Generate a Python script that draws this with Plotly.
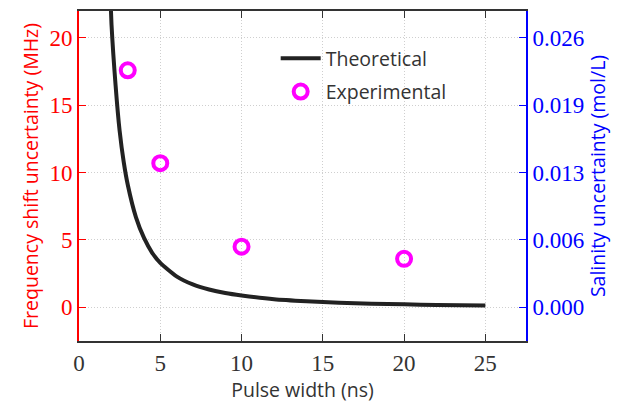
import plotly.graph_objects as go

# Data
theo_x = [1.5, 2, 2.25, 2.5, 2.75, 3, 3.5, 4, 4.5, 5, 6, 7, 8, 9, 10, 12, 14, 16, 18, 20, 22, 25]
theo_y = [36.0, 21.0, 16.5, 13.1, 10.8, 9.1, 6.7, 5.15, 4.05, 3.3, 2.3, 1.7, 1.32, 1.06, 0.88, 0.6, 0.45, 0.34, 0.27, 0.22, 0.18, 0.14]
exp_x = [3, 5, 10, 20]
exp_y = [17.6, 10.7, 4.5, 3.6]
x_ticks = [0, 5, 10, 15, 20, 25]
y_ticks = [0, 5, 10, 15, 20]
y2_ticks = [0.0, 0.0065, 0.013, 0.0195, 0.026]
y2_labels = ["0.000", "0.006", "0.013", "0.019", "0.026"]
scale = 0.0013  # mol/L per MHz

fig = go.Figure()
fig.add_trace(go.Scatter(x=theo_x, y=theo_y, mode="lines", name="Theoretical", legendgroup="a",
                         line=dict(color="#222222", width=4, shape="spline", smoothing=0.6)))
fig.add_trace(go.Scatter(x=exp_x, y=exp_y, mode="markers", name="Experimental", legendgroup="b",
                         marker=dict(symbol="circle-open", size=14, color="#ff00ff",
                                     line=dict(width=4, color="#ff00ff"))))
fig.add_trace(go.Scatter(x=[None], y=[None], yaxis="y2", showlegend=False))

tickfont = dict(family="Liberation Serif", size=23)
titlefont = dict(family="Open Sans", size=19.5)
grid = dict(showgrid=True, gridcolor="#cfcfcf", griddash="1px,2px", gridwidth=1)

fig.update_layout(
    width=626, height=403,
    margin=dict(l=79, r=100, t=11, b=62),
    paper_bgcolor="white", plot_bgcolor="white",
    showlegend=True,
    legend=dict(x=0.44, y=0.915, xanchor="left", yanchor="top",
                font=dict(family="Open Sans", size=19.5, color="#333333"),
                bgcolor="rgba(0,0,0,0)", tracegroupgap=5, itemwidth=40),
    xaxis=dict(range=[0, 27.5], tickvals=x_ticks, ticks="inside", ticklen=7,
               tickcolor="#333333", showline=True, linecolor="#333333", linewidth=2,
               mirror="ticks", zeroline=False, automargin=False,
               tickfont=dict(color="#333333", **tickfont),
               title=dict(text="Pulse width (ns)", font=dict(color="#333333", **titlefont),
                          standoff=4), **grid),
    yaxis=dict(range=[-2.5, 22], tickvals=y_ticks, ticks="inside", ticklen=7,
               tickcolor="#ff0000", showline=True, linecolor="#ff0000", linewidth=2,
               zeroline=False, automargin=False, tickfont=dict(color="#ff0000", **tickfont),
               title=dict(text="Frequency shift uncertainty (MHz)",
                          font=dict(color="#ff0000", **titlefont), standoff=6), **grid),
    yaxis2=dict(range=[-2.5 * scale, 22 * scale], overlaying="y", side="right",
                tickvals=y2_ticks, ticktext=y2_labels, ticks="inside", ticklen=7,
                tickcolor="#0000ff", showline=True, linecolor="#0000ff", linewidth=2,
                showgrid=False, zeroline=False, automargin=False,
                tickfont=dict(color="#0000ff", **tickfont),
                title=dict(text="Salinity uncertainty (mol/L)",
                           font=dict(color="#0000ff", **titlefont), standoff=8)),
)

fig.write_html("out.html", config={"displayModeBar": False},
               post_script="document.body.style.margin='0';")
